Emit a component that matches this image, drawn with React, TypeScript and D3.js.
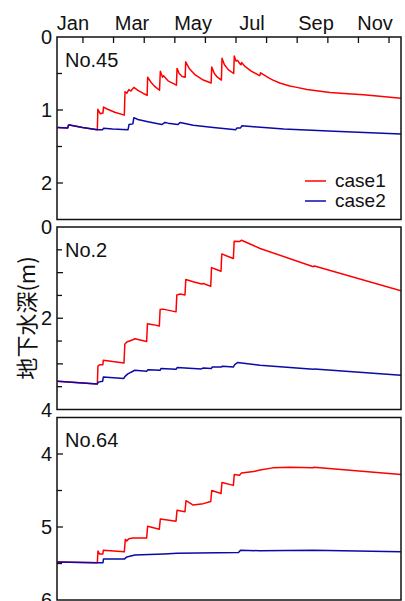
import React from "react";
import * as d3 from "d3";

type Pt = [number, number];

// x values: day of year, y values: groundwater depth (m)
const monthNames = ["Jan", "Mar", "May", "Jul", "Sep", "Nov"];
const monthLabelDays = [20.5, 79.2, 139.8, 198.4, 262, 320.7];
const monthTickDays = [30.4, 60.8, 91.3, 121.7, 152.1, 182.5, 212.9, 243.3, 273.8, 304.2, 334.6];

const panelNames = ["No.45", "No.2", "No.64"];
const panelDomains: [number, number][] = [[0, 2.5], [0, 4], [3.5, 6]];
const panelLabelTicks = [[0, 1, 2], [0, 2, 4], [4, 5, 6]];
const panelMinorTicks = [[0.5, 1, 1.5, 2], [0.5, 1, 1.5, 2, 2.5, 3, 3.5], [4, 4.5, 5, 5.5]];

const no45Case1: Pt[] = [
  [5, 1.24], [15.3, 1.245], [15.9, 1.21], [17, 1.205], [30, 1.24], [44.7, 1.27],
  [45.2, 0.99], [47.5, 1.05], [50.3, 1.04], [50.8, 0.96], [55, 0.99], [62, 1.03], [71.5, 1.07],
  [72.2, 0.75], [74, 0.77], [76, 0.72], [78, 0.74], [81, 0.69], [85, 0.73], [90, 0.77], [94.2, 0.8],
  [94.7, 0.55], [98, 0.62], [102, 0.68], [106.5, 0.73],
  [107.3, 0.47], [109.5, 0.55], [110.5, 0.53], [115, 0.6], [123.3, 0.66],
  [123.9, 0.43], [126, 0.5], [129, 0.54], [132, 0.55],
  [132.5, 0.34], [136, 0.43], [142, 0.52], [150, 0.59], [157.8, 0.63],
  [158.4, 0.41], [161, 0.5], [164, 0.55], [168, 0.59],
  [168.6, 0.29], [171, 0.38], [175, 0.45], [180.2, 0.5],
  [180.8, 0.26], [182.5, 0.33], [184, 0.32], [186.5, 0.37], [187.5, 0.38], [188, 0.35],
  [192, 0.41], [198, 0.47], [206, 0.53], [207, 0.49], [209, 0.51], [215, 0.56], [219.3, 0.59],
  [226, 0.63], [236, 0.67], [243, 0.69], [253, 0.72], [276, 0.76], [290, 0.775], [309, 0.79],
  [320, 0.805], [346.5, 0.84],
];
const no45Case2: Pt[] = [
  [5, 1.24], [15.3, 1.245], [15.9, 1.21], [17, 1.205], [30, 1.24], [44.7, 1.27],
  [50, 1.27], [50.8, 1.25], [60, 1.26], [75.2, 1.27], [76.2, 1.2], [80, 1.19], [81, 1.105],
  [85, 1.13], [95, 1.16], [108.7, 1.2], [111.9, 1.17], [115, 1.18], [124.7, 1.2], [126.9, 1.17],
  [140, 1.21], [160, 1.24], [182.3, 1.27], [183.5, 1.245], [187, 1.245], [188.5, 1.215],
  [200, 1.23], [230, 1.26], [280, 1.29], [346.5, 1.33],
];

const no2Case1: Pt[] = [
  [5, 3.38], [44.7, 3.44], [45.3, 3.05], [47, 3.02], [50.2, 3.02], [50.6, 2.92], [60, 2.95], [71.2, 2.98],
  [72, 2.57], [74, 2.52], [80, 2.47], [82, 2.45], [93.7, 2.51],
  [94.5, 2.12], [100, 2.14], [106.3, 2.17],
  [107.1, 1.81], [110, 1.8], [122.9, 1.86],
  [123.7, 1.49], [127, 1.47], [131.8, 1.49],
  [132.6, 1.15], [140, 1.2], [148.4, 1.25], [150, 1.24], [157.4, 1.3],
  [158.2, 0.89], [163, 0.93], [167.6, 0.97],
  [168.4, 0.59], [174, 0.64], [179.9, 0.69],
  [180.7, 0.31], [186, 0.32], [188, 0.29], [206.4, 0.47], [259.4, 0.87], [260.5, 0.855], [346.5, 1.4],
];
const no2Case2: Pt[] = [
  [5, 3.38], [44.7, 3.44], [45.5, 3.4], [50, 3.38], [50.6, 3.29], [71, 3.32], [72, 3.28],
  [75, 3.22], [82, 3.14], [93.7, 3.16], [95, 3.13], [107, 3.14], [108, 3.1], [122.9, 3.12],
  [124, 3.08], [148, 3.11], [150, 3.09], [158, 3.1], [159, 3.07], [168, 3.07], [169, 3.05],
  [180, 3.07], [181, 3.02], [184, 2.97], [206.4, 3.03], [259.4, 3.12], [260.5, 3.11], [346.5, 3.25],
];

const no64Case1: Pt[] = [
  [5, 5.48], [44.7, 5.49], [45.3, 5.33], [47, 5.37], [50.2, 5.37], [50.6, 5.32], [71.5, 5.34],
  [72.5, 5.17], [74, 5.19], [76, 5.16], [80, 5.15], [93.7, 5.15],
  [94.7, 4.99], [106.3, 5.03], [107.3, 4.89], [122.9, 4.92], [123.9, 4.77], [131.8, 4.79],
  [132.8, 4.64], [140, 4.7], [150, 4.68], [157.4, 4.65], [158.4, 4.5], [167.6, 4.54],
  [168.6, 4.39], [179.9, 4.43], [180.8, 4.28], [186, 4.29], [188, 4.26], [200, 4.24],
  [206.4, 4.22], [219, 4.19], [236, 4.18], [259, 4.19], [260, 4.18], [346.5, 4.28],
];
const no64Case2: Pt[] = [
  [5, 5.48], [44.7, 5.49], [50.3, 5.49], [50.8, 5.44], [71.5, 5.44], [74, 5.41], [82, 5.385],
  [111, 5.37], [123.9, 5.36], [185, 5.35], [187, 5.32], [206, 5.325], [259, 5.32], [346.5, 5.34],
];

const case1Series = [no45Case1, no2Case1, no64Case1];
const case2Series = [no45Case2, no2Case2, no64Case2];
const legendLabels = ["case1", "case2"];
const yTitle = "地下水深(m)";

const W = 405;
const H = 601;
const left = 57;
const right = 401;
const panelTops = [37, 227, 417.5];
const panelH = 182.5;
const RED = "#ff0000";
const BLUE = "#0a0aa8";
const FONT = "'Liberation Sans', Arial, Helvetica, sans-serif";

export default function App() {
  const x = d3.scaleLinear().domain([4.6, 346.5]).range([left, right]);
  return (
    <div style={{ position: "absolute", left: 0, top: 0 }}>
      <svg width={W} height={H} style={{ display: "block", background: "#fff" }}>
        <defs>
          {panelTops.map((t, i) => (
            <clipPath id={`clip${i}`} key={i}>
              <rect x={left} y={t} width={right - left} height={panelH} />
            </clipPath>
          ))}
        </defs>
        {monthNames.map((m, i) => (
          <text key={m} x={x(monthLabelDays[i])} y={30} fontSize={20} fontFamily={FONT} textAnchor="middle" fill="#111">
            {m}
          </text>
        ))}
        {monthTickDays.map((d) => (
          <line key={d} x1={x(d)} x2={x(d)} y1={panelTops[0]} y2={panelTops[0] + 6} stroke="#111" strokeWidth={1.3} />
        ))}
        {panelTops.map((top, i) => {
          const y = d3.scaleLinear().domain(panelDomains[i]).range([top, top + panelH]);
          const line = d3
            .line<Pt>()
            .x((p) => x(p[0]))
            .y((p) => y(p[1]));
          return (
            <g key={i}>
              <g clipPath={`url(#clip${i})`}>
                <path d={line(case1Series[i]) || ""} fill="none" stroke={RED} strokeWidth={1.5} strokeLinejoin="round" />
                <path d={line(case2Series[i]) || ""} fill="none" stroke={BLUE} strokeWidth={1.5} strokeLinejoin="round" />
              </g>
              {panelMinorTicks[i].map((v) => (
                <line key={v} x1={left} x2={left + (Number.isInteger(v) ? 6 : 5)} y1={y(v)} y2={y(v)} stroke="#111" strokeWidth={1.3} />
              ))}
              {panelLabelTicks[i].map((v) => (
                <text key={v} x={52} y={y(v)} dy="0.36em" fontSize={20} fontFamily={FONT} textAnchor="end" fill="#111">
                  {v}
                </text>
              ))}
              <rect x={left} y={top} width={right - left} height={panelH} fill="none" stroke="#111" strokeWidth={1.5} />
              <text x={65} y={top + 29.5} fontSize={20} fontFamily={FONT} fill="#111">
                {panelNames[i]}
              </text>
            </g>
          );
        })}
        {legendLabels.map((l, i) => (
          <g key={l}>
            <line x1={305} x2={326} y1={181 + i * 20} y2={181 + i * 20} stroke={i === 0 ? RED : BLUE} strokeWidth={1.5} />
            <text x={335} y={187 + i * 20} fontSize={19} fontFamily={FONT} fill="#111">
              {l}
            </text>
          </g>
        ))}
        <text
          transform={`translate(35, 318) rotate(-90)`}
          fontSize={22}
          fontFamily="'Noto Sans CJK JP', 'Noto Sans CJK SC', sans-serif"
          textAnchor="middle"
          fill="#111"
        >
          {yTitle}
        </text>
      </svg>
    </div>
  );
}
